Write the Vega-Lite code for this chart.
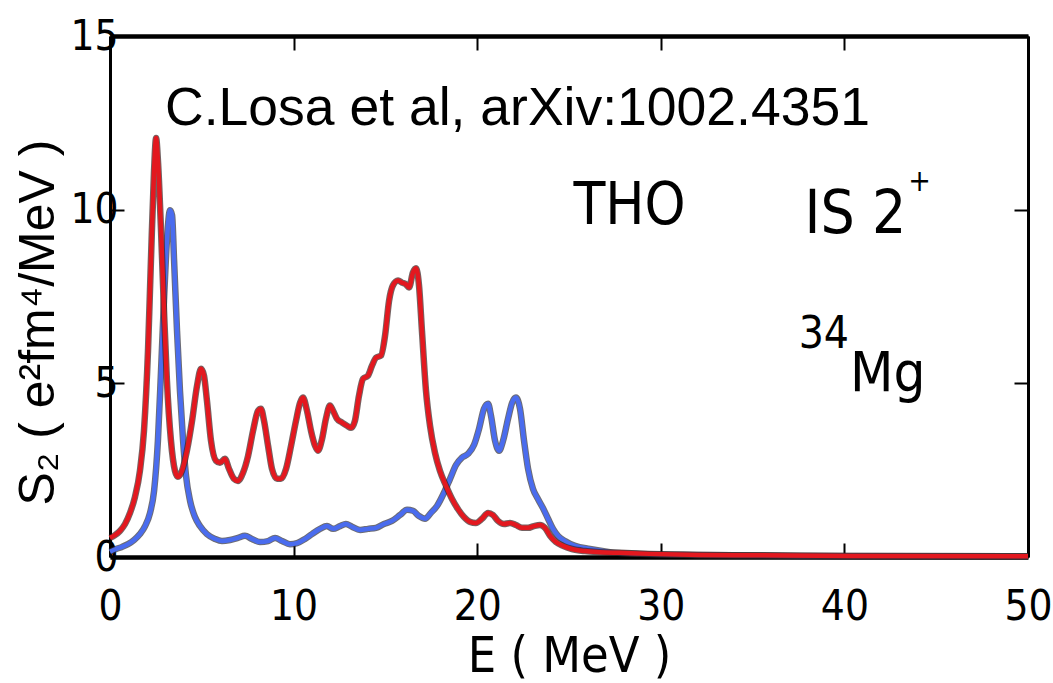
{
  "$schema": "https://vega.github.io/schema/vega-lite/v6.json",
  "width": 918,
  "height": 521,
  "autosize": {"type": "none"},
  "padding": {"left": 110, "top": 36, "right": 25, "bottom": 126},
  "background": "white",
  "config": {"view": {"stroke": null}, "axis": {"grid": false}},
  "datasets": {
    "blue": [
      {"E": 0, "S": 0.15}, {"E": 0.33, "S": 0.23}, {"E": 0.65, "S": 0.29}, {"E": 0.98, "S": 0.37},
      {"E": 1.31, "S": 0.49}, {"E": 1.63, "S": 0.66}, {"E": 1.91, "S": 0.89}, {"E": 2.18, "S": 1.27},
      {"E": 2.4, "S": 1.9}, {"E": 2.61, "S": 3.35}, {"E": 2.78, "S": 5.36}, {"E": 2.94, "S": 7.38},
      {"E": 3.1, "S": 9.11}, {"E": 3.27, "S": 9.98}, {"E": 3.38, "S": 9.84}, {"E": 3.49, "S": 8.54},
      {"E": 3.65, "S": 6.52}, {"E": 3.81, "S": 4.79}, {"E": 3.98, "S": 3.35}, {"E": 4.14, "S": 2.34},
      {"E": 4.36, "S": 1.62}, {"E": 4.63, "S": 1.15}, {"E": 4.9, "S": 0.89}, {"E": 5.28, "S": 0.66},
      {"E": 5.72, "S": 0.52}, {"E": 6.1, "S": 0.46}, {"E": 6.54, "S": 0.49}, {"E": 6.97, "S": 0.55},
      {"E": 7.35, "S": 0.61}, {"E": 7.73, "S": 0.52}, {"E": 8.17, "S": 0.43}, {"E": 8.61, "S": 0.46},
      {"E": 8.99, "S": 0.55}, {"E": 9.37, "S": 0.46}, {"E": 9.8, "S": 0.37}, {"E": 10.19, "S": 0.4},
      {"E": 10.62, "S": 0.52}, {"E": 11.0, "S": 0.66}, {"E": 11.44, "S": 0.81}, {"E": 11.82, "S": 0.89},
      {"E": 12.15, "S": 0.81}, {"E": 12.53, "S": 0.89}, {"E": 12.85, "S": 0.95}, {"E": 13.18, "S": 0.87},
      {"E": 13.62, "S": 0.78}, {"E": 14.05, "S": 0.81}, {"E": 14.49, "S": 0.84}, {"E": 14.92, "S": 0.95},
      {"E": 15.36, "S": 1.04}, {"E": 15.8, "S": 1.21}, {"E": 16.18, "S": 1.36}, {"E": 16.5, "S": 1.33},
      {"E": 16.83, "S": 1.18}, {"E": 17.16, "S": 1.1}, {"E": 17.48, "S": 1.27}, {"E": 17.81, "S": 1.47},
      {"E": 18.19, "S": 1.85}, {"E": 18.52, "S": 2.25}, {"E": 18.85, "S": 2.65}, {"E": 19.17, "S": 2.86},
      {"E": 19.5, "S": 2.97}, {"E": 19.83, "S": 3.23}, {"E": 20.1, "S": 3.69}, {"E": 20.37, "S": 4.27},
      {"E": 20.59, "S": 4.41}, {"E": 20.75, "S": 4.07}, {"E": 20.97, "S": 3.35}, {"E": 21.19, "S": 3.06},
      {"E": 21.41, "S": 3.35}, {"E": 21.68, "S": 3.98}, {"E": 21.9, "S": 4.44}, {"E": 22.11, "S": 4.59},
      {"E": 22.33, "S": 4.27}, {"E": 22.55, "S": 3.35}, {"E": 22.77, "S": 2.54}, {"E": 23.04, "S": 1.96},
      {"E": 23.31, "S": 1.67}, {"E": 23.58, "S": 1.41}, {"E": 23.86, "S": 1.1}, {"E": 24.13, "S": 0.81},
      {"E": 24.4, "S": 0.61}, {"E": 24.78, "S": 0.46}, {"E": 25.33, "S": 0.32}, {"E": 26.14, "S": 0.23},
      {"E": 27.23, "S": 0.14}, {"E": 28.87, "S": 0.09}, {"E": 32.1, "S": 0.06}, {"E": 37.6, "S": 0.03},
      {"E": 50, "S": 0.02}
    ],
    "red": [
      {"E": 0, "S": 0.55}, {"E": 0.27, "S": 0.63}, {"E": 0.54, "S": 0.75}, {"E": 0.82, "S": 0.95},
      {"E": 1.09, "S": 1.27}, {"E": 1.36, "S": 1.73}, {"E": 1.63, "S": 2.48}, {"E": 1.85, "S": 3.63},
      {"E": 2.07, "S": 5.94}, {"E": 2.23, "S": 8.54}, {"E": 2.4, "S": 11.13}, {"E": 2.51, "S": 12.06},
      {"E": 2.61, "S": 11.42}, {"E": 2.78, "S": 9.4}, {"E": 2.94, "S": 7.1}, {"E": 3.1, "S": 5.08},
      {"E": 3.32, "S": 3.35}, {"E": 3.54, "S": 2.48}, {"E": 3.7, "S": 2.31}, {"E": 3.92, "S": 2.48},
      {"E": 4.19, "S": 3.06}, {"E": 4.47, "S": 3.92}, {"E": 4.74, "S": 4.93}, {"E": 4.96, "S": 5.42},
      {"E": 5.12, "S": 5.22}, {"E": 5.28, "S": 4.5}, {"E": 5.5, "S": 3.35}, {"E": 5.77, "S": 2.77},
      {"E": 5.99, "S": 2.71}, {"E": 6.26, "S": 2.83}, {"E": 6.48, "S": 2.54}, {"E": 6.75, "S": 2.25},
      {"E": 6.97, "S": 2.19}, {"E": 7.24, "S": 2.42}, {"E": 7.52, "S": 2.91}, {"E": 7.79, "S": 3.63},
      {"E": 8.06, "S": 4.21}, {"E": 8.22, "S": 4.27}, {"E": 8.39, "S": 3.92}, {"E": 8.61, "S": 3.2},
      {"E": 8.82, "S": 2.54}, {"E": 9.1, "S": 2.25}, {"E": 9.31, "S": 2.25}, {"E": 9.59, "S": 2.54},
      {"E": 9.86, "S": 3.2}, {"E": 10.13, "S": 3.92}, {"E": 10.35, "S": 4.44}, {"E": 10.51, "S": 4.59},
      {"E": 10.73, "S": 4.21}, {"E": 10.95, "S": 3.63}, {"E": 11.17, "S": 3.2}, {"E": 11.33, "S": 3.06},
      {"E": 11.55, "S": 3.4}, {"E": 11.76, "S": 3.98}, {"E": 11.98, "S": 4.36}, {"E": 12.15, "S": 4.21},
      {"E": 12.36, "S": 3.98}, {"E": 12.64, "S": 3.87}, {"E": 12.91, "S": 3.78}, {"E": 13.13, "S": 3.72},
      {"E": 13.34, "S": 3.92}, {"E": 13.56, "S": 4.64}, {"E": 13.78, "S": 5.13}, {"E": 14.05, "S": 5.22},
      {"E": 14.27, "S": 5.51}, {"E": 14.49, "S": 5.74}, {"E": 14.76, "S": 5.8}, {"E": 14.98, "S": 6.37},
      {"E": 15.2, "S": 7.38}, {"E": 15.41, "S": 7.82}, {"E": 15.69, "S": 7.96}, {"E": 15.9, "S": 7.9},
      {"E": 16.12, "S": 7.85}, {"E": 16.29, "S": 7.76}, {"E": 16.5, "S": 8.19}, {"E": 16.67, "S": 8.31},
      {"E": 16.83, "S": 7.82}, {"E": 16.99, "S": 6.52}, {"E": 17.21, "S": 4.79}, {"E": 17.43, "S": 3.78},
      {"E": 17.7, "S": 3.0}, {"E": 17.97, "S": 2.48}, {"E": 18.3, "S": 2.05}, {"E": 18.63, "S": 1.67},
      {"E": 18.95, "S": 1.38}, {"E": 19.28, "S": 1.15}, {"E": 19.61, "S": 1.01}, {"E": 19.93, "S": 0.98},
      {"E": 20.26, "S": 1.1}, {"E": 20.59, "S": 1.27}, {"E": 20.86, "S": 1.21}, {"E": 21.13, "S": 1.04},
      {"E": 21.46, "S": 0.95}, {"E": 21.79, "S": 0.98}, {"E": 22.11, "S": 0.92}, {"E": 22.44, "S": 0.84},
      {"E": 22.77, "S": 0.84}, {"E": 23.09, "S": 0.89}, {"E": 23.42, "S": 0.92}, {"E": 23.69, "S": 0.84},
      {"E": 23.97, "S": 0.61}, {"E": 24.29, "S": 0.43}, {"E": 24.67, "S": 0.32}, {"E": 25.16, "S": 0.23},
      {"E": 25.87, "S": 0.17}, {"E": 26.69, "S": 0.14}, {"E": 27.78, "S": 0.12}, {"E": 29.4, "S": 0.09},
      {"E": 32.1, "S": 0.06}, {"E": 35.0, "S": 0.05}, {"E": 40.3, "S": 0.03}, {"E": 50, "S": 0.02}
    ]
  },
  "layer": [
    {
      "data": {"name": "blue"},
      "mark": {"type": "line", "interpolate": "monotone", "stroke": "#2e2e3a", "strokeWidth": 6.5, "opacity": 0.7},
      "encoding": {
        "x": {
          "field": "E", "type": "quantitative",
          "scale": {"domain": [0, 50], "nice": false, "zero": false},
          "axis": {
            "orient": "bottom", "values": [0, 10, 20, 30, 40, 50], "format": "d",
            "tickSize": -14, "tickWidth": 2, "tickColor": "black",
            "domainColor": "black", "domainWidth": 4.5,
            "labelFont": "DejaVu Sans Condensed, Liberation Sans, sans-serif", "labelFontSize": 42, "labelColor": "black",
            "labelPadding": 43, "labelFlush": false, "labelOverlap": false,
            "title": "E ( MeV )", "titleFont": "DejaVu Sans Condensed, Liberation Sans, sans-serif", "titleFontSize": 50,
            "titleFontWeight": "normal", "titleColor": "black",
            "titleX": 459, "titleY": 114, "titleBaseline": "alphabetic", "titleAlign": "center"
          }
        },
        "y": {
          "field": "S", "type": "quantitative",
          "scale": {"domain": [0, 15], "nice": false, "zero": false},
          "axis": {
            "orient": "left", "values": [0, 5, 10, 15], "format": "d",
            "tickSize": -14, "tickWidth": 2, "tickColor": "black",
            "domainColor": "black", "domainWidth": 3,
            "labelFont": "DejaVu Sans Condensed, Liberation Sans, sans-serif", "labelFontSize": 42, "labelColor": "black",
            "labelPadding": 6, "labelFlush": false, "labelOverlap": false,
            "title": "S₂ ( e²fm⁴/MeV )", "titleFont": "Liberation Sans", "titleFontSize": 50,
            "titleFontWeight": "normal", "titleColor": "black", "titleAngle": -90,
            "titleX": -47, "titleY": 286, "titleBaseline": "bottom", "titleAlign": "center"
          }
        }
      }
    },
    {
      "data": {"name": "blue"},
      "mark": {"type": "line", "interpolate": "monotone", "stroke": "#4a6cee", "strokeWidth": 4.5},
      "encoding": {
        "x": {
          "field": "E", "type": "quantitative",
          "axis": {
            "orient": "top", "values": [0, 10, 20, 30, 40, 50], "labels": false, "title": null,
            "tickSize": -14, "tickWidth": 2, "tickColor": "black",
            "domainColor": "black", "domainWidth": 4.5
          }
        },
        "y": {
          "field": "S", "type": "quantitative",
          "axis": {
            "orient": "right", "values": [0, 5, 10, 15], "labels": false, "title": null,
            "tickSize": -14, "tickWidth": 2, "tickColor": "black",
            "domainColor": "black", "domainWidth": 3
          }
        }
      }
    },
    {
      "data": {"name": "red"},
      "mark": {"type": "line", "interpolate": "monotone", "stroke": "#3a2020", "strokeWidth": 6.5, "opacity": 0.7},
      "encoding": {
        "x": {"field": "E", "type": "quantitative", "axis": null},
        "y": {"field": "S", "type": "quantitative", "axis": null}
      }
    },
    {
      "data": {"name": "red"},
      "mark": {"type": "line", "interpolate": "monotone", "stroke": "#e3181f", "strokeWidth": 4.5},
      "encoding": {
        "x": {"field": "E", "type": "quantitative", "axis": null},
        "y": {"field": "S", "type": "quantitative", "axis": null}
      }
    },
    {
      "data": {"values": [{"label": "C.Losa et al, arXiv:1002.4351"}]},
      "mark": {"type": "text", "font": "Liberation Sans", "fontSize": 53.5, "align": "left", "baseline": "alphabetic", "color": "black"},
      "encoding": {
        "text": {"field": "label"},
        "x": {"datum": 3.0, "type": "quantitative", "axis": null},
        "y": {"datum": 12.43, "type": "quantitative", "axis": null}
      }
    },
    {
      "data": {"values": [{"label": "THO"}]},
      "mark": {"type": "text", "font": "DejaVu Sans Condensed, Liberation Sans, sans-serif", "fontSize": 58, "align": "center", "baseline": "alphabetic", "color": "black"},
      "encoding": {
        "text": {"field": "label"},
        "x": {"datum": 28.3, "type": "quantitative", "axis": null},
        "y": {"datum": 9.6, "type": "quantitative", "axis": null}
      }
    },
    {
      "data": {"values": [{"label": "IS  2"}]},
      "mark": {"type": "text", "font": "DejaVu Sans Condensed, Liberation Sans, sans-serif", "fontSize": 60, "align": "center", "baseline": "alphabetic", "color": "black"},
      "encoding": {
        "text": {"field": "label"},
        "x": {"datum": 40.6, "type": "quantitative", "axis": null},
        "y": {"datum": 9.32, "type": "quantitative", "axis": null}
      }
    },
    {
      "data": {"values": [{"label": "+"}]},
      "mark": {"type": "text", "font": "DejaVu Sans Condensed, Liberation Sans, sans-serif", "fontSize": 30, "align": "center", "baseline": "alphabetic", "color": "black"},
      "encoding": {
        "text": {"field": "label"},
        "x": {"datum": 44.1, "type": "quantitative", "axis": null},
        "y": {"datum": 10.55, "type": "quantitative", "axis": null}
      }
    },
    {
      "data": {"values": [{"label": "34"}]},
      "mark": {"type": "text", "font": "DejaVu Sans Condensed, Liberation Sans, sans-serif", "fontSize": 44, "align": "right", "baseline": "alphabetic", "color": "black"},
      "encoding": {
        "text": {"field": "label"},
        "x": {"datum": 40.25, "type": "quantitative", "axis": null},
        "y": {"datum": 6.03, "type": "quantitative", "axis": null}
      }
    },
    {
      "data": {"values": [{"label": "Mg"}]},
      "mark": {"type": "text", "font": "DejaVu Sans Condensed, Liberation Sans, sans-serif", "fontSize": 56, "align": "left", "baseline": "alphabetic", "color": "black"},
      "encoding": {
        "text": {"field": "label"},
        "x": {"datum": 40.3, "type": "quantitative", "axis": null},
        "y": {"datum": 4.79, "type": "quantitative", "axis": null}
      }
    }
  ],
  "resolve": {"axis": {"x": "independent", "y": "independent"}}
}
